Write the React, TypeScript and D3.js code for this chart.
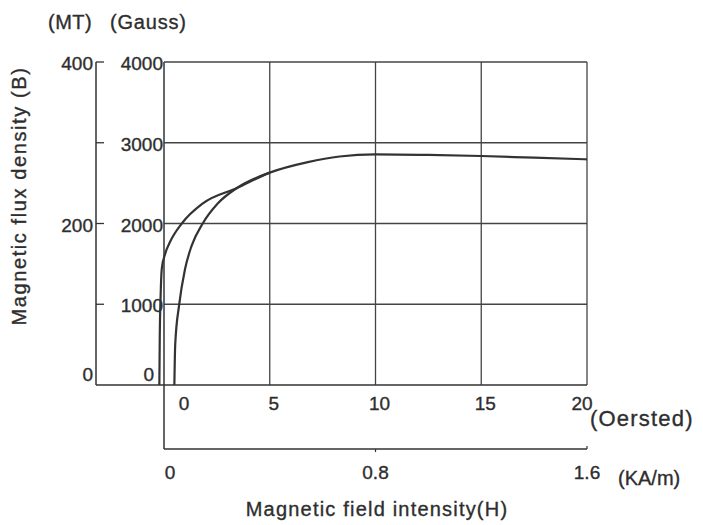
import React from 'react';
import * as d3 from 'd3';

// axis ticks
const gaussTicks = [0, 1000, 2000, 3000, 4000];
const mtTicks = [0, 100, 200, 300, 400];
const mtLabels = [0, 200, 400];
const oerstedTicks = [0, 5, 10, 15, 20];
const kamTicks = [0, 0.8, 1.6];

// outer curve (Oersted, Gauss)
const outerH = [-0.22, -0.2, -0.16, -0.1, 0.05, 0.3, 0.84, 1.84, 3.45, 5, 6.8, 8.3, 10, 12.5, 15, 17.5, 20];
const outerB = [0, 600, 1100, 1450, 1620, 1780, 2000, 2250, 2440, 2630, 2760, 2830, 2857, 2850, 2836, 2815, 2795];

// inner (initial magnetization) curve
const innerH = [0.49, 0.53, 0.72, 0.99, 1.3, 1.83, 2.55, 3.45, 5];
const innerB = [0, 500, 1000, 1430, 1720, 2000, 2250, 2440, 2630];

const W = 703;
const H = 525;
const font = 'Liberation Sans, Arial, sans-serif';
const ink = '#2e2e2e';

const App: React.FC = () => {
  const x = d3.scaleLinear().domain([0, 20]).range([164, 587]);
  const xk = d3.scaleLinear().domain([0, 1.6]).range([164, 587]);
  const y = d3.scaleLinear().domain([0, 4000]).range([385, 62]);
  const ym = d3.scaleLinear().domain([0, 400]).range([385, 62]);
  const mtX = 96;
  const kamY = 449;

  const line = d3
    .line<[number, number]>()
    .x((d) => x(d[0]))
    .y((d) => y(d[1]))
    .curve(d3.curveMonotoneX);

  const outer = line(outerH.map((h, i) => [h, outerB[i]]));
  const inner = line(innerH.map((h, i) => [h, innerB[i]]));

  const [x0, x1] = x.range();
  const [yb, yt] = y.range();

  return (
    <svg
      width={W}
      height={H}
      style={{ position: 'absolute', left: 0, top: 0, display: 'block', background: '#fff' }}
    >
      <g fontFamily={font} fill={ink} stroke={ink} strokeWidth={0.35}>
        {/* grid */}
        {gaussTicks.slice(1).map((t) => (
          <line key={'g' + t} x1={x0} x2={x1} y1={y(t)} y2={y(t)} stroke="#444" strokeWidth={1.3} />
        ))}
        {oerstedTicks.slice(1).map((t) => (
          <line key={'v' + t} x1={x(t)} x2={x(t)} y1={yt} y2={yb} stroke="#444" strokeWidth={1.3} />
        ))}
        {/* base line and gauss axis */}
        <line x1={mtX} x2={x1} y1={yb} y2={yb} stroke="#333" strokeWidth={1.5} />
        <line x1={x0} x2={x0} y1={yt} y2={kamY} stroke="#333" strokeWidth={1.5} />
        {/* MT axis */}
        <line x1={mtX} x2={mtX} y1={ym(400)} y2={yb} stroke="#333" strokeWidth={1.5} />
        {mtTicks.slice(1).map((t) => (
          <line key={'m' + t} x1={mtX} x2={mtX + 8} y1={ym(t)} y2={ym(t)} stroke="#333" strokeWidth={1.3} />
        ))}
        {mtLabels.map((t) => (
          <text key={'ml' + t} x={mtX - 3} y={t === 0 ? yb - 4 : ym(t) + 8} textAnchor="end" fontSize={19}>
            {t}
          </text>
        ))}
        {gaussTicks.map((t) => (
          <text key={'gl' + t} x={t === 0 ? x0 - 10 : x0 - 1} y={t === 0 ? yb - 4 : y(t) + 8} textAnchor="end" fontSize={19}>
            {t}
          </text>
        ))}
        {/* KA/m axis */}
        <line x1={x0} x2={x1} y1={kamY} y2={kamY} stroke="#333" strokeWidth={1.5} />
        <line x1={xk(0.8)} x2={xk(0.8)} y1={kamY} y2={kamY + 3} stroke="#333" strokeWidth={1.2} />
        <line x1={xk(1.6)} x2={xk(1.6)} y1={kamY - 3} y2={kamY} stroke="#333" strokeWidth={1.2} />
        {kamTicks.map((t) => (
          <text key={'k' + t} x={xk(t) + (t === 0 ? 6 : 0)} y={479} textAnchor="middle" fontSize={19}>
            {t === 0 ? '0' : t.toFixed(1)}
          </text>
        ))}
        {oerstedTicks.map((t) => (
          <text key={'o' + t} x={x(t) + (t === 0 ? 20 : t === 20 ? -5 : 4)} y={410} textAnchor="middle" fontSize={19}>
            {t}
          </text>
        ))}
        {/* curves */}
        <path d={outer ?? ''} fill="none" stroke="#333" strokeWidth={2.2} />
        <path d={inner ?? ''} fill="none" stroke="#333" strokeWidth={2.2} />
        {/* titles */}
        <text x={48} y={29} fontSize={20} letterSpacing={0.5}>(MT)</text>
        <text x={110} y={29} fontSize={20} letterSpacing={0.8}>(Gauss)</text>
        <text x={590} y={426} fontSize={22} letterSpacing={1.2}>(Oersted)</text>
        <text x={618} y={485} fontSize={20}>(KA/m)</text>
        <text x={377} y={516} textAnchor="middle" fontSize={20} letterSpacing={1.2}>
          Magnetic field intensity(H)
        </text>
        <text
          transform={`translate(26,${196}) rotate(-90)`}
          textAnchor="middle"
          fontSize={20}
          letterSpacing={1.6}
        >
          Magnetic flux density (B)
        </text>
      </g>
    </svg>
  );
};

export default App;
